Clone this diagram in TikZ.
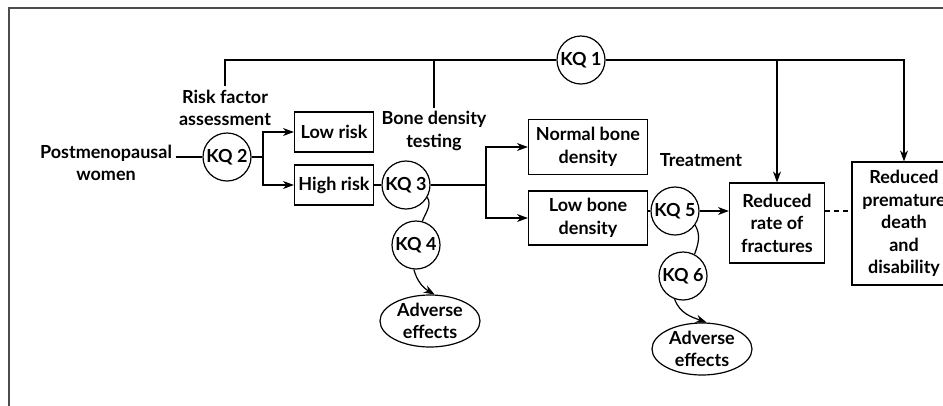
\documentclass[tikz,border=0pt]{standalone}
\usepackage{fontspec}
\setmainfont{Lato}
\usetikzlibrary{arrows.meta,shapes.geometric}

\begin{document}
\begin{tikzpicture}[
    x=1pt, y=1pt,
    font=\fontsize{18}{22.5}\selectfont\bfseries,
    line width=1.2pt,
    outcome/.style={
      draw,
      align=center,
      inner sep=2pt
    },
    kq/.style={
      circle,
      draw,
      minimum size=48pt,
      inner sep=0pt
    },
    harm/.style={
      ellipse,
      draw,
      minimum width=100pt,
      minimum height=52pt,
      inner sep=0pt,
      align=center
    },
    stage/.style={
      align=center,
      inner sep=3pt
    },
    arr/.style={-{Stealth[length=11pt,width=8pt]}}
  ]
    \useasboundingbox (0,0) rectangle (943,-405);
    \draw[gray!60!black, line width=2pt] (9,-420) -- (9,-8) -- (960,-8);

    \node[stage] (women) at (106,-163) {Postmenopausal\\women};
    \node[stage] (risk) at (225,-108) {Risk factor\\assessment};
    \node[stage] (bone) at (434,-131) {Bone density\\testing};
    \node[stage] (treat) at (701,-160) {Treatment};

    \node[kq] (kq1) at (581,-60) {KQ 1};
    \node[kq] (kq2) at (227,-157) {KQ 2};
    \node[kq] (kq3) at (406,-185) {KQ 3};
    \node[kq] (kq4) at (416,-245) {KQ 4};
    \node[kq] (kq5) at (675,-211) {KQ 5};
    \node[kq] (kq6) at (683,-276) {KQ 6};

    \node[outcome, minimum width=79pt, minimum height=40pt] (low) at (334,-132) {Low risk};
    \node[outcome, minimum width=79pt, minimum height=40pt] (high) at (334,-185) {High risk};
    \node[outcome, minimum width=119pt, minimum height=55pt] (normal) at (588,-147) {Normal bone\\density};
    \node[outcome, minimum width=119pt, minimum height=54pt] (lowbone) at (588,-218) {Low bone\\density};
    \node[outcome, minimum width=95pt, minimum height=80pt] (rate) at (777,-223) {Reduced\\rate of\\fractures};
    \node[outcome, minimum width=104pt, minimum height=123pt] (prem) at (904,-223.5) {Reduced\\premature\\death\\and\\disability};

    \node[harm] (adv1) at (430,-321) {Adverse\\effects};
    \node[harm] (adv2) at (702,-349) {Adverse\\effects};

    \coordinate (split1) at (263,-157);
    \coordinate (split2) at (486,-185);

    \draw (women.east |- kq2) -- (kq2);
    \draw (kq2) -- (split1);
    \draw[arr] (split1) |- (low);
    \draw[arr] (split1) |- (high);
    \draw (high) -- (kq3);
    \draw (kq3) -- (split2);
    \draw[arr] (split2) |- (normal);
    \draw[arr] (split2) |- (lowbone);
    \draw (lowbone.east |- kq5) -- (kq5);
    \draw[arr] (kq5) -- (kq5 -| rate.west);
    \draw[dash pattern=on 5pt off 4pt] (kq5 -| rate.east) -- (kq5 -| prem.west);

    \draw (risk.north) |- (kq1);
    \draw (bone.north) -- (bone.north |- kq1);
    \draw[arr] (kq1) -| (rate);
    \draw[arr] (kq1) -| (prem);

    \draw (kq3.-30) to[out=-60, in=70] (kq4.75);
    \draw[arr] (kq4.-95) to[out=-75, in=150] (adv1.80);
    \draw (kq5.-35) to[out=-60, in=70] (kq6.62);
    \draw[arr] (kq6.-110) to[out=-70, in=160] (adv2.80);
  \end{tikzpicture}
\end{document}
